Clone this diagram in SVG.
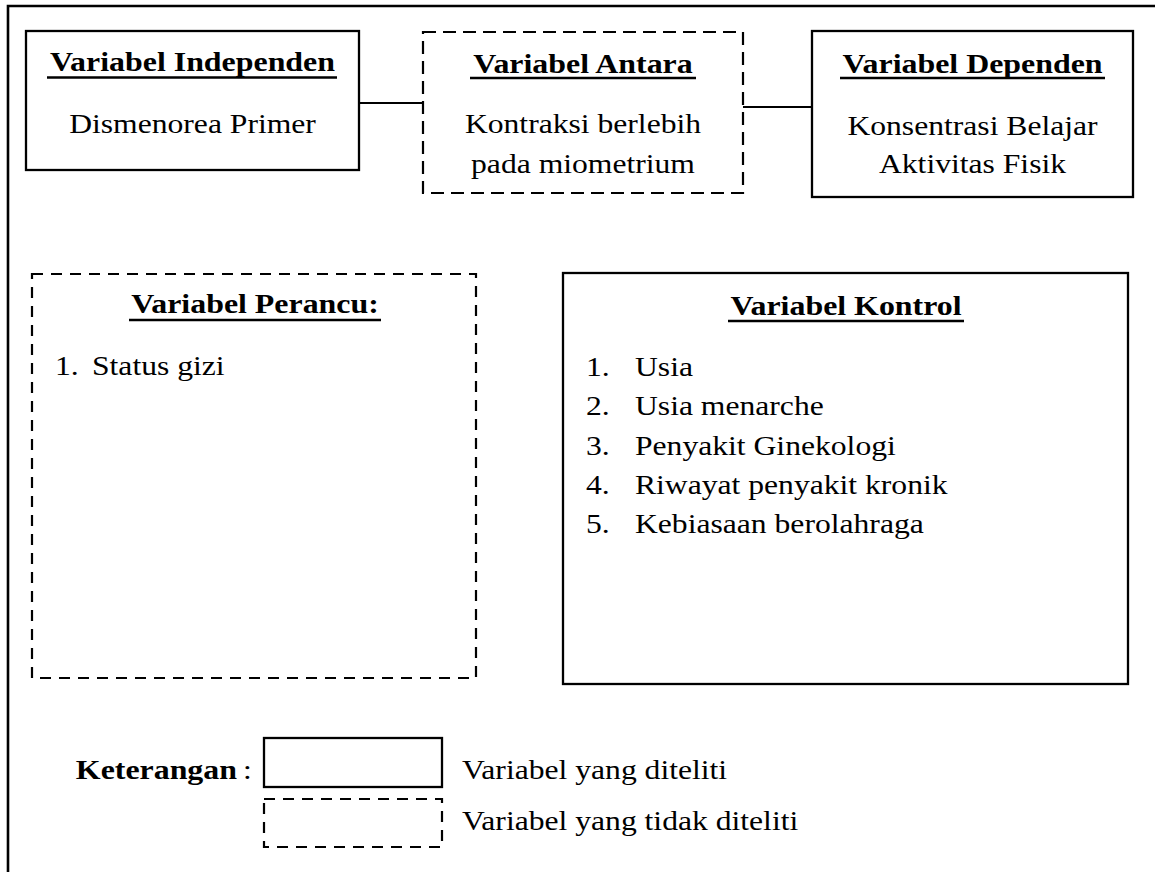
<svg xmlns="http://www.w3.org/2000/svg" width="1155" height="872" viewBox="0 0 1155 872">
<style>
.t{font-family:"Liberation Serif","Times New Roman",serif;font-size:27.5px;fill:#000}
.b{font-weight:bold}
.m{text-anchor:middle}
.e{text-anchor:end}
.box{fill:none;stroke:#000;stroke-width:2.3}
.dash{fill:none;stroke:#000;stroke-width:2.2;stroke-dasharray:12 7}
.ul{stroke:#000;stroke-width:2.6}
.conn{stroke:#000;stroke-width:2;fill:none}
.frame{stroke:#000;stroke-width:2.6;fill:none}
</style>
<rect width="1155" height="872" fill="#fff"/>
<g id="frame">
<path class="frame" d="M8 872 V6 H1155"/>
</g>
<g id="connectors">
<line class="conn" x1="359" y1="103" x2="423" y2="103"/>
<line class="conn" x1="743" y1="107" x2="812" y2="107"/>
</g>
<g id="independen">
<rect class="box" x="26" y="31" width="333" height="139"/>
<text class="t b m" transform="translate(192.5 71) scale(1.16 1)">Variabel Independen</text>
<line class="ul" x1="47" y1="77.5" x2="337" y2="77.5"/>
<text class="t m" transform="translate(192.5 133) scale(1.15 1)">Dismenorea Primer</text>
</g>
<g id="antara">
<rect class="dash" x="423" y="32" width="320" height="161" style="stroke-dasharray:13 7"/>
<text class="t b m" transform="translate(583 72.5) scale(1.16 1)">Variabel Antara</text>
<line class="ul" x1="470" y1="78" x2="696" y2="78"/>
<text class="t m" transform="translate(583 133) scale(1.15 1)">Kontraksi berlebih</text>
<text class="t m" transform="translate(583 173) scale(1.15 1)">pada miometrium</text>
</g>
<g id="dependen">
<rect class="box" x="812" y="31" width="321" height="166"/>
<text class="t b m" transform="translate(972.5 72.5) scale(1.16 1)">Variabel Dependen</text>
<line class="ul" x1="840" y1="78" x2="1105" y2="78"/>
<text class="t m" transform="translate(972.5 135) scale(1.15 1)">Konsentrasi Belajar</text>
<text class="t m" transform="translate(972.5 173) scale(1.15 1)">Aktivitas Fisik</text>
</g>
<g id="perancu">
<rect class="dash" x="32" y="274" width="444" height="404" style="stroke-dasharray:11 8"/>
<text class="t b m" transform="translate(255 313) scale(1.16 1)">Variabel Perancu:</text>
<line class="ul" x1="129" y1="320" x2="381" y2="320"/>
<text class="t" transform="translate(55 375) scale(1.15 1)">1.</text>
<text class="t" transform="translate(92 375) scale(1.15 1)">Status gizi</text>
</g>
<g id="kontrol">
<rect class="box" x="563" y="273" width="565" height="411"/>
<text class="t b m" transform="translate(846 315) scale(1.16 1)">Variabel Kontrol</text>
<line class="ul" x1="728" y1="321" x2="964" y2="321"/>
<text class="t" transform="translate(586 376) scale(1.15 1)">1.</text>
<text class="t" transform="translate(635 376) scale(1.15 1)">Usia</text>
<text class="t" transform="translate(586 415) scale(1.15 1)">2.</text>
<text class="t" transform="translate(635 415) scale(1.15 1)">Usia menarche</text>
<text class="t" transform="translate(586 455) scale(1.15 1)">3.</text>
<text class="t" transform="translate(635 455) scale(1.15 1)">Penyakit Ginekologi</text>
<text class="t" transform="translate(586 494) scale(1.15 1)">4.</text>
<text class="t" transform="translate(635 494) scale(1.15 1)">Riwayat penyakit kronik</text>
<text class="t" transform="translate(586 533) scale(1.15 1)">5.</text>
<text class="t" transform="translate(635 533) scale(1.15 1)">Kebiasaan berolahraga</text>
</g>
<g id="legend">
<text class="t b e" transform="translate(237 779) scale(1.16 1)">Keterangan</text>
<text class="t" transform="translate(243 779) scale(1.15 1)">:</text>
<rect class="box" x="264" y="738" width="178" height="49"/>
<text class="t" transform="translate(462 779) scale(1.15 1)">Variabel yang diteliti</text>
<rect class="dash" x="264" y="799" width="178" height="48" style="stroke-dasharray:11 8"/>
<text class="t" transform="translate(462 830) scale(1.15 1)">Variabel yang tidak diteliti</text>
</g>
</svg>
